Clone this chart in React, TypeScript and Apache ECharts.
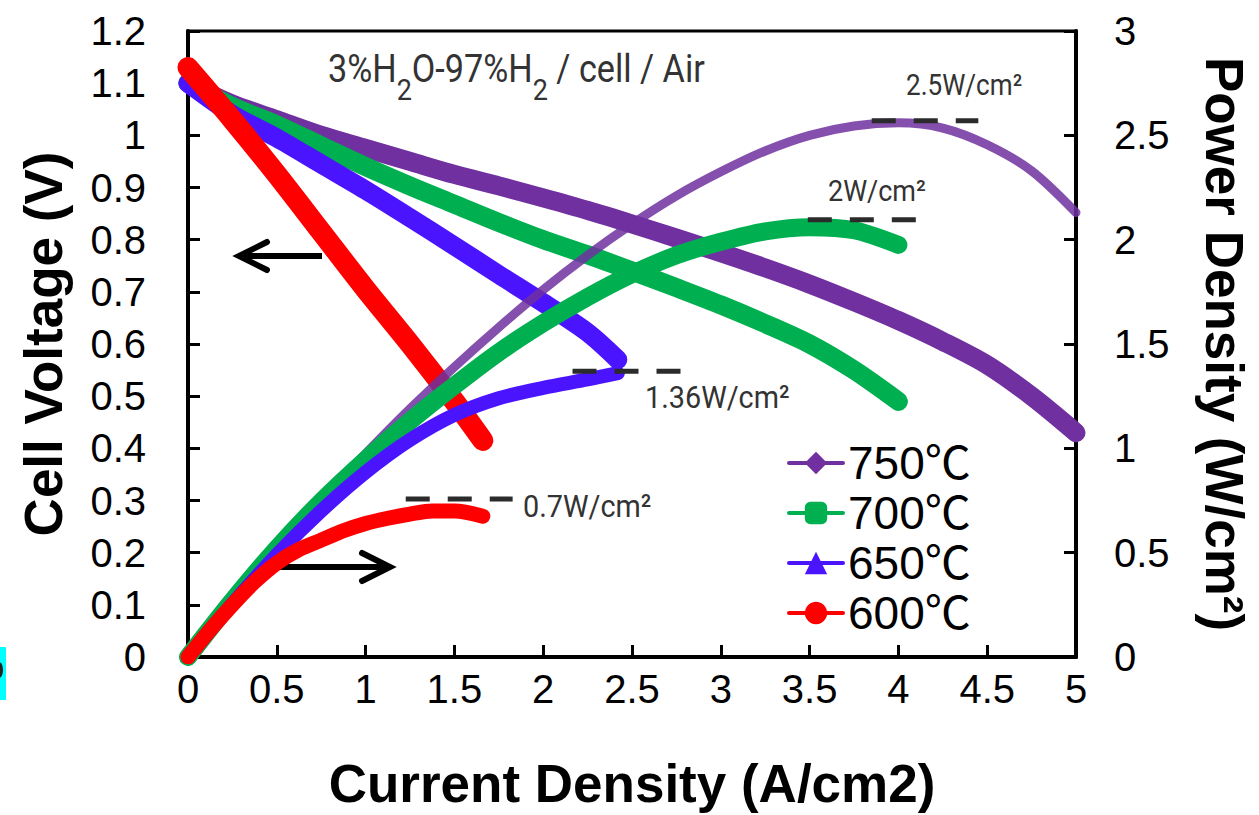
import React, { useEffect, useRef } from "react";
import * as echarts from "echarts";

const temps = ["750℃", "700℃", "650℃", "600℃"];
const colors = ["#7030A0", "#00B050", "#4B14FF", "#FF0000"];
const symbols = ["diamond", "roundRect", "triangle", "circle"];

// Cell voltage (V) vs current density (A/cm2)
const iV750 = [0, 0.25, 0.5, 0.75, 1, 1.25, 1.5, 1.75, 2, 2.25, 2.5, 2.75, 3, 3.25, 3.5, 3.75, 4, 4.25, 4.5, 4.75, 5];
const v750 = [1.1, 1.06, 1.03, 1.0, 0.975, 0.95, 0.925, 0.903, 0.88, 0.856, 0.83, 0.803, 0.775, 0.746, 0.715, 0.681, 0.645, 0.605, 0.56, 0.5, 0.43];
const iV700 = [0, 0.25, 0.5, 0.75, 1, 1.25, 1.5, 1.75, 2, 2.25, 2.5, 2.75, 3, 3.25, 3.5, 3.75, 4];
const v700 = [1.1, 1.055, 1.02, 0.98, 0.94, 0.903, 0.868, 0.833, 0.8, 0.771, 0.74, 0.708, 0.675, 0.639, 0.6, 0.55, 0.49];
const iV650 = [0, 0.25, 0.5, 0.75, 1, 1.25, 1.5, 1.75, 2, 2.25, 2.42];
const v650 = [1.1, 1.04, 0.995, 0.945, 0.895, 0.842, 0.788, 0.733, 0.679, 0.622, 0.57];
const iV600 = [0, 0.25, 0.5, 0.75, 1, 1.25, 1.5, 1.66];
const v600 = [1.13, 1.03, 0.925, 0.815, 0.705, 0.6, 0.49, 0.415];

// Power density (W/cm2) vs current density
const iP750 = [0, 0.25, 0.5, 0.75, 1, 1.25, 1.5, 1.75, 2, 2.25, 2.5, 2.75, 3, 3.25, 3.5, 3.75, 4, 4.25, 4.5, 4.75, 5];
const p750 = [0, 0.265, 0.515, 0.75, 0.975, 1.19, 1.39, 1.58, 1.76, 1.925, 2.075, 2.21, 2.325, 2.425, 2.5, 2.545, 2.56, 2.535, 2.455, 2.33, 2.13];
const iP700 = [0, 0.25, 0.5, 0.75, 1, 1.25, 1.5, 1.75, 2, 2.25, 2.5, 2.75, 3, 3.25, 3.5, 3.75, 4];
const p700 = [0, 0.27, 0.52, 0.745, 0.945, 1.13, 1.3, 1.46, 1.6, 1.725, 1.835, 1.925, 1.99, 2.04, 2.06, 2.045, 1.975];
const iP650 = [0, 0.25, 0.5, 0.75, 1, 1.25, 1.5, 1.75, 2, 2.25, 2.42];
const p650 = [0, 0.255, 0.49, 0.7, 0.885, 1.04, 1.16, 1.24, 1.29, 1.33, 1.36];
const iP600 = [0, 0.125, 0.25, 0.375, 0.5, 0.625, 0.75, 0.875, 1, 1.125, 1.25, 1.375, 1.5, 1.66];
const p600 = [0, 0.13, 0.25, 0.36, 0.45, 0.515, 0.56, 0.605, 0.64, 0.665, 0.685, 0.7, 0.7, 0.675];

// Peak power reference dashes: [iStart, iEnd, power]
const peakLines = [
  [3.85, 4.45, 2.57],
  [3.49, 4.1, 2.095],
  [2.165, 2.78, 1.37],
  [1.226, 1.828, 0.757],
];

const zip = (a: number[], b: number[]) => a.map((x, k) => [x, b[k]]);

const ARIAL = "'Liberation Sans', Arial, 'Noto Sans CJK SC', sans-serif";
const NARROW = "'Liberation Sans Narrow', 'Roboto', sans-serif";

export default function App() {
  const ref = useRef<HTMLDivElement>(null);
  useEffect(() => {
    if (!ref.current) return;
    const chart = echarts.init(ref.current, null, { renderer: "svg" });
    const vSets = [zip(iV750, v750), zip(iV700, v700), zip(iV650, v650), zip(iV600, v600)];
    const pSets = [zip(iP750, p750), zip(iP700, p700), zip(iP650, p650), zip(iP600, p600)];
    const vWidths = [19, 19, 19, 21];
    const pWidths = [9, 18, 14, 15];
    const series: any[] = [];
    vSets.forEach((d, k) => {
      series.push({
        name: temps[k],
        type: "line",
        data: d,
        yAxisIndex: 0,
        smooth: 0.3,
        showSymbol: false,
        symbol: symbols[k],
        color: colors[k],
        lineStyle: { width: vWidths[k], color: colors[k], cap: "round", join: "round" },
        z: 2 + k,
      });
    });
    pSets.forEach((d, k) => {
      series.push({
        name: temps[k],
        type: "line",
        data: d,
        yAxisIndex: 1,
        smooth: 0.3,
        showSymbol: false,
        symbol: symbols[k],
        color: colors[k],
        lineStyle: {
          width: pWidths[k],
          color: colors[k],
          cap: "round",
          join: "round",
          opacity: k === 0 ? 0.85 : 1,
        },
        z: 7 + k,
      });
    });
    peakLines.forEach((p, k) => {
      series.push({
        name: "peak" + k,
        type: "line",
        yAxisIndex: 1,
        data: [
          [p[0], p[2]],
          [p[1], p[2]],
        ],
        symbol: "none",
        silent: true,
        lineStyle: { width: 5, color: "#2b2b2b", type: [24, 18], cap: "butt" },
        z: 12,
      });
    });

    const narrowText = (x: number, y: number, text: string, size: number) => ({
      type: "text",
      x,
      y,
      scaleX: 0.9,
      style: { text, fontSize: size, fontFamily: NARROW, fill: "#333" },
    });

    chart.setOption({
      animation: false,
      backgroundColor: "#fff",
      grid: {
        left: 188,
        right: 181,
        top: 31,
        bottom: 154,
        show: true,
        borderColor: "#000",
        borderWidth: 3,
      },
      legend: {
        data: temps,
        orient: "vertical",
        left: 787,
        top: 440,
        padding: 0,
        itemWidth: 54,
        itemHeight: 28,
        itemGap: 4,
        lineStyle: { width: 4 },
        textStyle: { fontSize: 46, fontFamily: ARIAL, color: "#000" },
        selectedMode: false,
      },
      xAxis: {
        type: "value",
        min: 0,
        max: 5,
        interval: 0.5,
        name: "Current Density (A/cm2)",
        nameLocation: "middle",
        nameGap: 100,
        nameTextStyle: { fontSize: 53, fontWeight: "bold", fontFamily: ARIAL, color: "#000" },
        axisLine: { lineStyle: { color: "#000", width: 4 } },
        axisTick: { inside: true, length: 12, lineStyle: { color: "#000", width: 3 } },
        axisLabel: { fontSize: 40, fontFamily: ARIAL, color: "#000", margin: 12 },
        splitLine: { show: false },
      },
      yAxis: [
        {
          type: "value",
          min: 0,
          max: 1.2,
          interval: 0.1,
          name: "Cell Voltage (V)",
          nameLocation: "middle",
          nameGap: 118,
          nameTextStyle: { fontSize: 53, fontWeight: "bold", fontFamily: ARIAL, color: "#000" },
          axisLine: { show: true, lineStyle: { color: "#000", width: 4 } },
          axisTick: { show: true, inside: true, length: 12, lineStyle: { color: "#000", width: 3 } },
          axisLabel: { fontSize: 40, fontFamily: ARIAL, color: "#000", margin: 42 },
          splitLine: { show: false },
        },
        {
          type: "value",
          min: 0,
          max: 3,
          interval: 0.5,
          position: "right",
          name: "Power Density (W/cm²)",
          nameLocation: "middle",
          nameRotate: -90,
          nameGap: 122,
          nameTextStyle: { fontSize: 53, fontWeight: "bold", fontFamily: ARIAL, color: "#000" },
          axisLine: { show: true, lineStyle: { color: "#000", width: 4 } },
          axisTick: { show: true, inside: true, length: 12, lineStyle: { color: "#000", width: 3 } },
          axisLabel: { fontSize: 40, fontFamily: ARIAL, color: "#000", margin: 38 },
          splitLine: { show: false },
        },
      ],
      series,
      graphic: [
        {
          type: "text",
          x: 328,
          y: 50,
          scaleX: 0.9,
          style: {
            text: "{n|3%H}{s|2}{n|O-97%H}{s|2}{n| / cell / Air}",
            fill: "#333",
            rich: {
              n: { fontSize: 38, lineHeight: 40, fontFamily: NARROW, fill: "#333", verticalAlign: "top" },
              s: {
                fontSize: 30,
                lineHeight: 30,
                fontFamily: NARROW,
                fill: "#333",
                verticalAlign: "top",
                padding: [25, 0, 0, 0],
              },
            },
          },
        },
        narrowText(906, 71, "2.5W/cm²", 29),
        narrowText(828, 176, "2W/cm²", 30),
        narrowText(645, 381, "1.36W/cm²", 32),
        narrowText(523, 490, "0.7W/cm²", 32),
        // left-pointing arrow (voltage axis)
        {
          type: "line",
          shape: { x1: 239, y1: 256, x2: 322, y2: 256 },
          style: { stroke: "#000", lineWidth: 6 },
        },
        {
          type: "polyline",
          shape: { points: [[267, 242], [239, 256], [267, 270]] },
          style: { stroke: "#000", lineWidth: 6, fill: null, lineCap: "round", lineJoin: "miter" },
        },
        // right-pointing arrow (power axis)
        {
          type: "line",
          shape: { x1: 280, y1: 567, x2: 390, y2: 567 },
          style: { stroke: "#000", lineWidth: 6 },
        },
        {
          type: "polyline",
          shape: { points: [[362, 553], [390, 567], [362, 581]] },
          style: { stroke: "#000", lineWidth: 6, fill: null, lineCap: "round", lineJoin: "miter" },
        },
        // cyan fragment at bottom-left edge
        {
          type: "rect",
          shape: { x: 0, y: 647, width: 6, height: 53 },
          style: { fill: "#00FFFF" },
        },
        {
          type: "ellipse",
          shape: { cx: -1, cy: 670, rx: 4, ry: 8 },
          style: { fill: "#222" },
        },
      ],
    });
    return () => chart.dispose();
  }, []);
  return (
    <div
      ref={ref}
      style={{ position: "absolute", left: 0, top: 0, width: 1259, height: 815 }}
    />
  );
}
